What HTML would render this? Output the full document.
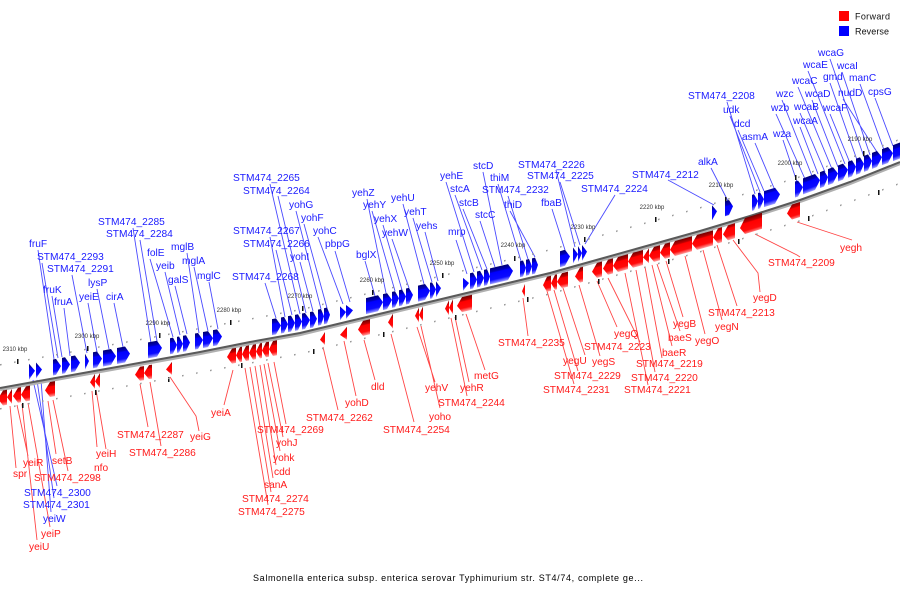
<!DOCTYPE html>
<html><head><meta charset="utf-8"><style>
html,body{margin:0;padding:0;background:#fff;}
svg{display:block;}
.b{fill:#1a1aff;font-family:"Liberation Sans",sans-serif;font-size:10.2px;}
.r{fill:#ff1a1a;font-family:"Liberation Sans",sans-serif;font-size:10.2px;}
.k{fill:#333;font-family:"Liberation Sans",sans-serif;font-size:6px;}
</style></head><body>
<svg width="900" height="600" viewBox="0 0 900 600" xmlns="http://www.w3.org/2000/svg">
<defs>
<linearGradient id="gb" x1="0" y1="0" x2="0" y2="1">
<stop offset="0" stop-color="#000070"/><stop offset="0.25" stop-color="#0000c0"/><stop offset="0.32" stop-color="#0000ff"/><stop offset="0.75" stop-color="#0a0aff"/><stop offset="1" stop-color="#a0a0ff"/></linearGradient>
<linearGradient id="gr" x1="0" y1="0" x2="0" y2="1">
<stop offset="0" stop-color="#700000"/><stop offset="0.25" stop-color="#c00000"/><stop offset="0.32" stop-color="#ff0000"/><stop offset="0.75" stop-color="#ff0a0a"/><stop offset="1" stop-color="#ffa0a0"/></linearGradient>
<pattern id="dt" width="14" height="4" patternUnits="userSpaceOnUse"><rect x="0" y="0" width="1.6" height="1.6" fill="#999"/></pattern>
</defs>
<rect width="900" height="600" fill="#fff"/>

<!-- leader lines blue -->
<path fill="none" stroke="#4a4aff" stroke-width="0.9" d="
M38,250 L54,359 M42,263 L58,358 M52,296 L62,357 M64,308 L70,356 M72,275 L87,353 M88,303 L97,352 M97,289 L109,349 M114,303 L123,347
M133,228 L151,343 M140,240 L157,341 M150,259 L173,337 M165,272 L180,335 M175,286 L187,334 M187,253 L199,333 M194,267 L208,331 M209,282 L218,329
M270,184 L300,314 M278,196 L306,313 M270,237 L285,317 M276,250 L292,315 M265,283 L276,318 M300,262 L313,311 M296,211 L321,309 M304,224 L327,308 M318,237 L343,304 M335,251 L350,302
M365,261 L375,296 M367,199 L386,293 M372,211 L395,291 M383,225 L402,290 M392,239 L409,288 M403,204 L424,284 M413,218 L432,282 M425,232 L438,281
M456,240 L467,274 M446,182 L474,272 M455,195 L482,270 M463,209 L487,269 M480,221 L495,267 M483,172 L502,265 M498,184 L521,261 M508,196 L528,259 M510,211 L535,257
M552,209 L565,250 M556,170 L575,247 M560,182 L580,245 M615,195 L585,244 M668,180 L714,205 M711,168 L728,201
M727,102 L755,194 M730,116 L760,192 M738,130 L764,191 M755,143 L774,188 M783,140 L797,182 M776,114 L805,179 M782,100 L812,176 M800,127 L818,174 M800,113 L825,172 M798,87 L832,169 M812,100 L838,167 M808,71 L845,164 M830,114 L850,163 M830,83 L857,160 M830,59 L864,157 M842,72 L870,155 M843,99 L877,152 M860,84 L884,150 M875,98 L893,146
M33,380 L57,486 M37,380 L54,498 M41,380 L51,512"/>
<!-- leader lines red -->
<path fill="none" stroke="#ff4444" stroke-width="0.9" d="
M10,406 L16,468 M17,405 L28,456 M22,404 L37,540 M28,403 L50,527 M48,401 L56,454 M53,400 L68,471 M92,391 L97,447 M96,390 L106,449
M140,384 L148,427 M150,382 L161,446 M170,377 L196,416 L199,431 M233,370 L224,405
M274,362 L286,424 M268,363 L283,437 M264,364 L280,451 M260,365 L276,465 M255,366 L273,478 M250,367 L271,492 M245,368 L268,505
M323,347 L338,410 M344,341 L356,396 M364,340 L375,380 M391,334 L414,422 M417,327 L435,382 M421,326 L440,408 M451,318 L467,396 M455,317 L469,382 M466,314 L485,370
M523,298 L528,336 M547,291 L574,384 M554,290 L578,371 M563,288 L585,355 M579,285 L600,356 M597,281 L617,327 M608,278 L640,342
M625,273 L648,385 M636,270 L655,372 M645,267 L662,358 M652,265 L672,346 M657,264 L680,331 M666,261 L683,317 M685,256 L705,334 M703,250 L722,320 M717,245 L737,306
M733,240 L758,273 L760,292 M755,234 L797,255 L800,257 M797,222 L852,240"/>

<!-- axis line -->
<polyline fill="none" stroke="#b0b0b0" stroke-width="3" transform="translate(0,1.6)" points="0,388 50,379 100,370 150,361 200,352 250,342 300,333 350,321 400,309 450,297 500,285 550,273 600,259 650,245 700,231 750,216 800,200 850,182 900,162"/>
<polyline fill="none" stroke="#5a5a5a" stroke-width="2" points="0,388 50,379 100,370 150,361 200,352 250,342 300,333 350,321 400,309 450,297 500,285 550,273 600,259 650,245 700,231 750,216 800,200 850,182 900,162"/>

<!-- ticks -->
<g fill="#111">
<rect x="17" y="359" width="1.5" height="5"/><rect x="87" y="346" width="1.5" height="5"/><rect x="159" y="333" width="1.5" height="5"/><rect x="230" y="320" width="1.5" height="5"/><rect x="302" y="306" width="1.5" height="5"/><rect x="372" y="290" width="1.5" height="5"/><rect x="442" y="273" width="1.5" height="5"/><rect x="514" y="256" width="1.5" height="5"/><rect x="584" y="237" width="1.5" height="5"/><rect x="655" y="217" width="1.5" height="5"/><rect x="725" y="197" width="1.5" height="5"/><rect x="795" y="175" width="1.5" height="5"/><rect x="863" y="151" width="1.5" height="5"/>
<rect x="22" y="403" width="1.5" height="5"/><rect x="95" y="390" width="1.5" height="5"/><rect x="168" y="377" width="1.5" height="5"/><rect x="241" y="363" width="1.5" height="5"/><rect x="313" y="349" width="1.5" height="5"/><rect x="383" y="332" width="1.5" height="5"/><rect x="455" y="315" width="1.5" height="5"/><rect x="527" y="297" width="1.5" height="5"/><rect x="598" y="279" width="1.5" height="5"/><rect x="668" y="259" width="1.5" height="5"/><rect x="738" y="239" width="1.5" height="5"/><rect x="808" y="216" width="1.5" height="5"/><rect x="878" y="190" width="1.5" height="5"/>
</g>
<g class="k">
<text x="15" y="351" text-anchor="middle" class="k">2310 kbp</text>
<text x="87" y="338" text-anchor="middle" class="k">2300 kbp</text>
<text x="158" y="325" text-anchor="middle" class="k">2290 kbp</text>
<text x="229" y="312" text-anchor="middle" class="k">2280 kbp</text>
<text x="300" y="298" text-anchor="middle" class="k">2270 kbp</text>
<text x="372" y="282" text-anchor="middle" class="k">2260 kbp</text>
<text x="442" y="265" text-anchor="middle" class="k">2250 kbp</text>
<text x="513" y="247" text-anchor="middle" class="k">2240 kbp</text>
<text x="583" y="229" text-anchor="middle" class="k">2230 kbp</text>
<text x="652" y="209" text-anchor="middle" class="k">2220 kbp</text>
<text x="721" y="187" text-anchor="middle" class="k">2210 kbp</text>
<text x="790" y="165" text-anchor="middle" class="k">2200 kbp</text>
<text x="860" y="141" text-anchor="middle" class="k">2190 kbp</text>
</g>

<!-- Segment A -->
<g transform="matrix(1,-0.18,0,1,0,388)">
<rect x="0" y="-24" width="150" height="2" fill="url(#dt)"/>
<rect x="0" y="20" width="150" height="2" fill="url(#dt)"/>
<path fill="url(#gb)" d="M29 -19 L35 -11 L29 -3Z M36 -19 L42 -11 L36 -3Z M53 -19 H56 L61 -11 L56 -3 H53Z M62 -19 H65 L70 -11 L65 -3 H62Z M71 -19 H75 L80 -11 L75 -3 H71Z M85 -19 L89 -11 L85 -3Z M93 -19 H97 L102 -11 L97 -3 H93Z M103 -19 H111 L116 -11 L111 -3 H103Z M117 -19 H125 L130 -11 L125 -3 H117Z M148 -19 H157 L162 -11 L157 -3 H148Z"/>
<path fill="url(#gr)" d="M7 3 H3 L-2 10.5 L3 18 H7Z M12 3 L7 10.5 L12 18Z M21 3 H18 L13 10.5 L18 18 H21Z M30 3 H26 L21 10.5 L26 18 H30Z M55 3 H50 L45 10.5 L50 18 H55Z M95 3 L90 10.5 L95 18Z M100 3 L95 10.5 L100 18Z M144 4 H140 L135 11 L140 18 H144Z M152 4 H149 L144 11 L149 18 H152Z"/>
</g>
<!-- Segment B -->
<g transform="matrix(1,-0.187,0,1,0,389)">
<rect x="150" y="-24" width="150" height="2" fill="url(#dt)"/>
<rect x="150" y="20" width="150" height="2" fill="url(#dt)"/>
<path fill="url(#gb)" d="M170 -19 H173 L177 -11 L173 -3 H170Z M177 -19 H179 L183 -11 L179 -3 H177Z M183 -19 H186 L190 -11 L186 -3 H183Z M195 -19 H198 L203 -11 L198 -3 H195Z M203 -19 H208 L213 -11 L208 -3 H203Z M213 -19 H217 L222 -11 L217 -3 H213Z M272 -19 H276 L281 -11 L276 -3 H272Z M281 -19 H284 L288 -11 L284 -3 H281Z M288 -19 H291 L295 -11 L291 -3 H288Z M295 -19 H298 L302 -11 L298 -3 H295Z M302 -19 H305 L310 -11 L305 -3 H302Z M310 -19 H313 L317 -11 L313 -3 H310Z"/>
<path fill="url(#gr)" d="M172 5 L166 11.5 L172 18Z M236 3 H232 L227 10.5 L232 18 H236Z M242 3 H240 L236 10.5 L240 18 H242Z M249 3 H246 L242 10.5 L246 18 H249Z M256 3 H253 L249 10.5 L253 18 H256Z M262 3 H260 L256 10.5 L260 18 H262Z M269 3 H266 L262 10.5 L266 18 H269Z M277 3 H273 L269 10.5 L273 18 H277Z"/>
</g>
<!-- Segment C -->
<g transform="matrix(1,-0.24,0,1,0,405)">
<rect x="300" y="-24" width="250" height="2" fill="url(#dt)"/>
<rect x="300" y="20" width="250" height="2" fill="url(#dt)"/>
<path fill="url(#gb)" d="M318 -19 H321 L324 -11 L321 -3 H318Z M324 -19 H327 L330 -11 L327 -3 H324Z M340 -17 L346 -10 L340 -3Z M346 -17 L353 -10 L346 -3Z M366 -19 H378 L383 -11 L378 -3 H366Z M383 -19 H387 L392 -11 L387 -3 H383Z M392 -19 H395 L399 -11 L395 -3 H392Z M399 -19 H402 L406 -11 L402 -3 H399Z M406 -19 H409 L413 -11 L409 -3 H406Z M418 -19 H425 L430 -11 L425 -3 H418Z M430 -19 H432 L436 -11 L432 -3 H430Z M436 -19 L441 -11 L436 -3Z M463 -16 L469 -9.5 L463 -3Z M470 -19 H473 L477 -11 L473 -3 H470Z M477 -19 H480 L484 -11 L480 -3 H477Z M484 -19 H487 L490 -11 L487 -3 H484Z M490 -19 H508 L513 -11 L508 -3 H490Z M520 -19 H523 L526 -11 L523 -3 H520Z M526 -19 H529 L532 -11 L529 -3 H526Z M532 -19 H535 L538 -11 L535 -3 H532Z"/>
<path fill="url(#gr)" d="M325 5 L320 11.5 L325 18Z M347 5 L340 11.5 L347 18Z M370 3 H363 L358 10.5 L363 18 H370Z M393 3 L388 10.5 L393 18Z M419 3 L415 10.5 L419 18Z M423 3 L419 10.5 L423 18Z M449 3 L445 10.5 L449 18Z M453 3 L449 10.5 L453 18Z M472 3 H462 L457 10.5 L462 18 H472Z M525 5 L522 11.5 L525 18Z M551 3 H547 L543 10.5 L547 18 H551Z M557 3 H555 L551 10.5 L555 18 H557Z M568 3 H562 L557 10.5 L562 18 H568Z"/>
</g>
<!-- Segment E -->
<g transform="matrix(1,-0.28,0,1,0,427)">
<rect x="550" y="-24" width="150" height="2" fill="url(#dt)"/>
<rect x="550" y="20" width="150" height="2" fill="url(#dt)"/>
<path fill="url(#gb)" d="M560 -19 H565 L570 -11 L565 -3 H560Z M573 -19 L578 -11 L573 -3Z M578 -19 L582 -11 L578 -3Z M582 -19 L587 -11 L582 -3Z"/>
<path fill="url(#gr)" d="M583 3 H580 L575 10.5 L580 18 H583Z M602 3 H597 L592 10.5 L597 18 H602Z M613 3 H608 L603 10.5 L608 18 H613Z M628 3 H618 L613 10.5 L618 18 H628Z M643 3 H633 L628 10.5 L633 18 H643Z M649 3 L643 10.5 L649 18Z M660 3 H654 L649 10.5 L654 18 H660Z M670 3 H665 L660 10.5 L665 18 H670Z M692 3 H675 L670 10.5 L675 18 H692Z M713 3 H697 L692 10.5 L697 18 H713Z"/>
</g>
<!-- Segment F -->
<g transform="matrix(1,-0.31,0,1,0,448)">
<rect x="700" y="-24" width="100" height="2" fill="url(#dt)"/>
<rect x="700" y="20" width="100" height="2" fill="url(#dt)"/>
<path fill="url(#gb)" d="M712 -22 L717 -14.5 L712 -7Z M725 -22 H729 L733 -14.5 L729 -7 H725Z M752 -20 H754 L758 -12 L754 -4 H752Z M758 -20 H760 L764 -12 L760 -4 H758Z M764 -20 H775 L780 -12 L775 -4 H764Z M795 -20 H798 L803 -12 L798 -4 H795Z"/>
<path fill="url(#gr)" d="M722 3 H718 L713 10.5 L718 18 H722Z M735 3 H728 L723 10.5 L728 18 H735Z M762 1 H745 L740 9.5 L745 17 H762Z M800 2 H792 L787 9.5 L792 17 H800Z"/>
</g>
<!-- Segment G -->
<g transform="matrix(1,-0.37,0,1,0,495.5)">
<rect x="800" y="-24" width="100" height="2" fill="url(#dt)"/>
<rect x="800" y="20" width="100" height="2" fill="url(#dt)"/>
<path fill="url(#gb)" d="M803 -20 H815 L820 -12 L815 -4 H803Z M820 -20 H824 L828 -12 L824 -4 H820Z M828 -20 H833 L838 -12 L833 -4 H828Z M838 -20 H843 L848 -12 L843 -4 H838Z M848 -20 H852 L856 -12 L852 -4 H848Z M856 -20 H860 L864 -12 L860 -4 H856Z M864 -20 H868 L872 -12 L868 -4 H864Z M872 -20 H877 L882 -12 L877 -4 H872Z M882 -20 H888 L893 -12 L888 -4 H882Z M893 -20 H905 L910 -12 L905 -4 H893Z"/>
</g>

<!-- blue labels -->
<g class="b">
<text x="29" y="247">fruF</text>
<text x="37" y="260">STM474_2293</text>
<text x="47" y="272">STM474_2291</text>
<text x="88" y="286">lysP</text>
<text x="43" y="293">fruK</text>
<text x="79" y="300">yeiE</text>
<text x="106" y="300">cirA</text>
<text x="54" y="305">fruA</text>
<text x="98" y="225">STM474_2285</text>
<text x="106" y="237">STM474_2284</text>
<text x="147" y="256">folE</text>
<text x="171" y="250">mglB</text>
<text x="156" y="269">yeib</text>
<text x="182" y="264">mglA</text>
<text x="168" y="283">galS</text>
<text x="197" y="279">mglC</text>
<text x="233" y="181">STM474_2265</text>
<text x="243" y="194">STM474_2264</text>
<text x="289" y="208">yohG</text>
<text x="301" y="221">yohF</text>
<text x="233" y="234">STM474_2267</text>
<text x="313" y="234">yohC</text>
<text x="243" y="247">STM474_2266</text>
<text x="325" y="247">pbpG</text>
<text x="290" y="260">yohI</text>
<text x="232" y="280">STM474_2268</text>
<text x="356" y="258">bglX</text>
<text x="352" y="196">yehZ</text>
<text x="363" y="208">yehY</text>
<text x="374" y="222">yehX</text>
<text x="382" y="236">yehW</text>
<text x="391" y="201">yehU</text>
<text x="404" y="215">yehT</text>
<text x="416" y="229">yehs</text>
<text x="448" y="235">mrp</text>
<text x="440" y="179">yehE</text>
<text x="450" y="192">stcA</text>
<text x="459" y="206">stcB</text>
<text x="473" y="169">stcD</text>
<text x="490" y="181">thiM</text>
<text x="482" y="193">STM474_2232</text>
<text x="475" y="218">stcC</text>
<text x="504" y="208">thiD</text>
<text x="541" y="206">fbaB</text>
<text x="518" y="168">STM474_2226</text>
<text x="527" y="179">STM474_2225</text>
<text x="581" y="192">STM474_2224</text>
<text x="632" y="178">STM474_2212</text>
<text x="698" y="165">alkA</text>
<text x="818" y="56">wcaG</text>
<text x="803" y="68">wcaE</text>
<text x="837" y="69">wcaI</text>
<text x="792" y="84">wcaC</text>
<text x="823" y="80">gmd</text>
<text x="849" y="81">manC</text>
<text x="688" y="99">STM474_2208</text>
<text x="776" y="97">wzc</text>
<text x="805" y="97">wcaD</text>
<text x="838" y="96">nudD</text>
<text x="868" y="95">cpsG</text>
<text x="723" y="113">udk</text>
<text x="771" y="111">wzb</text>
<text x="794" y="110">wcaB</text>
<text x="823" y="111">wcaF</text>
<text x="793" y="124">wcaA</text>
<text x="734" y="127">dcd</text>
<text x="742" y="140">asmA</text>
<text x="773" y="137">wza</text>
<text x="24" y="496">STM474_2300</text>
<text x="23" y="508">STM474_2301</text>
<text x="43" y="522">yeiW</text>
</g>

<!-- red labels -->
<g class="r">
<text x="13" y="477">spr</text>
<text x="23" y="466">yeiR</text>
<text x="52" y="464">setB</text>
<text x="34" y="481">STM474_2298</text>
<text x="96" y="457">yeiH</text>
<text x="94" y="471">nfo</text>
<text x="41" y="537">yeiP</text>
<text x="29" y="550">yeiU</text>
<text x="117" y="438">STM474_2287</text>
<text x="129" y="456">STM474_2286</text>
<text x="190" y="440">yeiG</text>
<text x="211" y="416">yeiA</text>
<text x="257" y="433">STM474_2269</text>
<text x="276" y="446">yohJ</text>
<text x="273" y="461">yohk</text>
<text x="274" y="475">cdd</text>
<text x="264" y="488">sanA</text>
<text x="242" y="502">STM474_2274</text>
<text x="238" y="515">STM474_2275</text>
<text x="306" y="421">STM474_2262</text>
<text x="345" y="406">yohD</text>
<text x="371" y="390">dld</text>
<text x="383" y="433">STM474_2254</text>
<text x="425" y="391">yehV</text>
<text x="429" y="420">yoho</text>
<text x="438" y="406">STM474_2244</text>
<text x="460" y="391">yehR</text>
<text x="474" y="379">metG</text>
<text x="498" y="346">STM474_2235</text>
<text x="563" y="364">yegU</text>
<text x="592" y="365">yegS</text>
<text x="554" y="379">STM474_2229</text>
<text x="543" y="393">STM474_2231</text>
<text x="614" y="337">yegQ</text>
<text x="584" y="350">STM474_2223</text>
<text x="662" y="356">baeR</text>
<text x="636" y="367">STM474_2219</text>
<text x="631" y="381">STM474_2220</text>
<text x="624" y="393">STM474_2221</text>
<text x="673" y="327">yegB</text>
<text x="668" y="341">baeS</text>
<text x="695" y="344">yegO</text>
<text x="715" y="330">yegN</text>
<text x="708" y="316">STM474_2213</text>
<text x="753" y="301">yegD</text>
<text x="768" y="266">STM474_2209</text>
<text x="840" y="251">yegh</text>
</g>

<!-- legend -->
<rect x="839" y="11" width="10" height="10" fill="#f00"/>
<rect x="839" y="26" width="10" height="10" fill="#00f"/>
<text x="855" y="19.5" font-family="Liberation Sans, sans-serif" font-size="9" fill="#111" textLength="35">Forward</text>
<text x="855" y="34.5" font-family="Liberation Sans, sans-serif" font-size="9" fill="#111" textLength="34">Reverse</text>

<!-- caption -->
<text x="253" y="581" font-family="Liberation Sans, sans-serif" font-size="9" fill="#000" textLength="390" lengthAdjust="spacing">Salmonella enterica subsp. enterica serovar Typhimurium str. ST4/74, complete ge...</text>
</svg>
</body></html>
